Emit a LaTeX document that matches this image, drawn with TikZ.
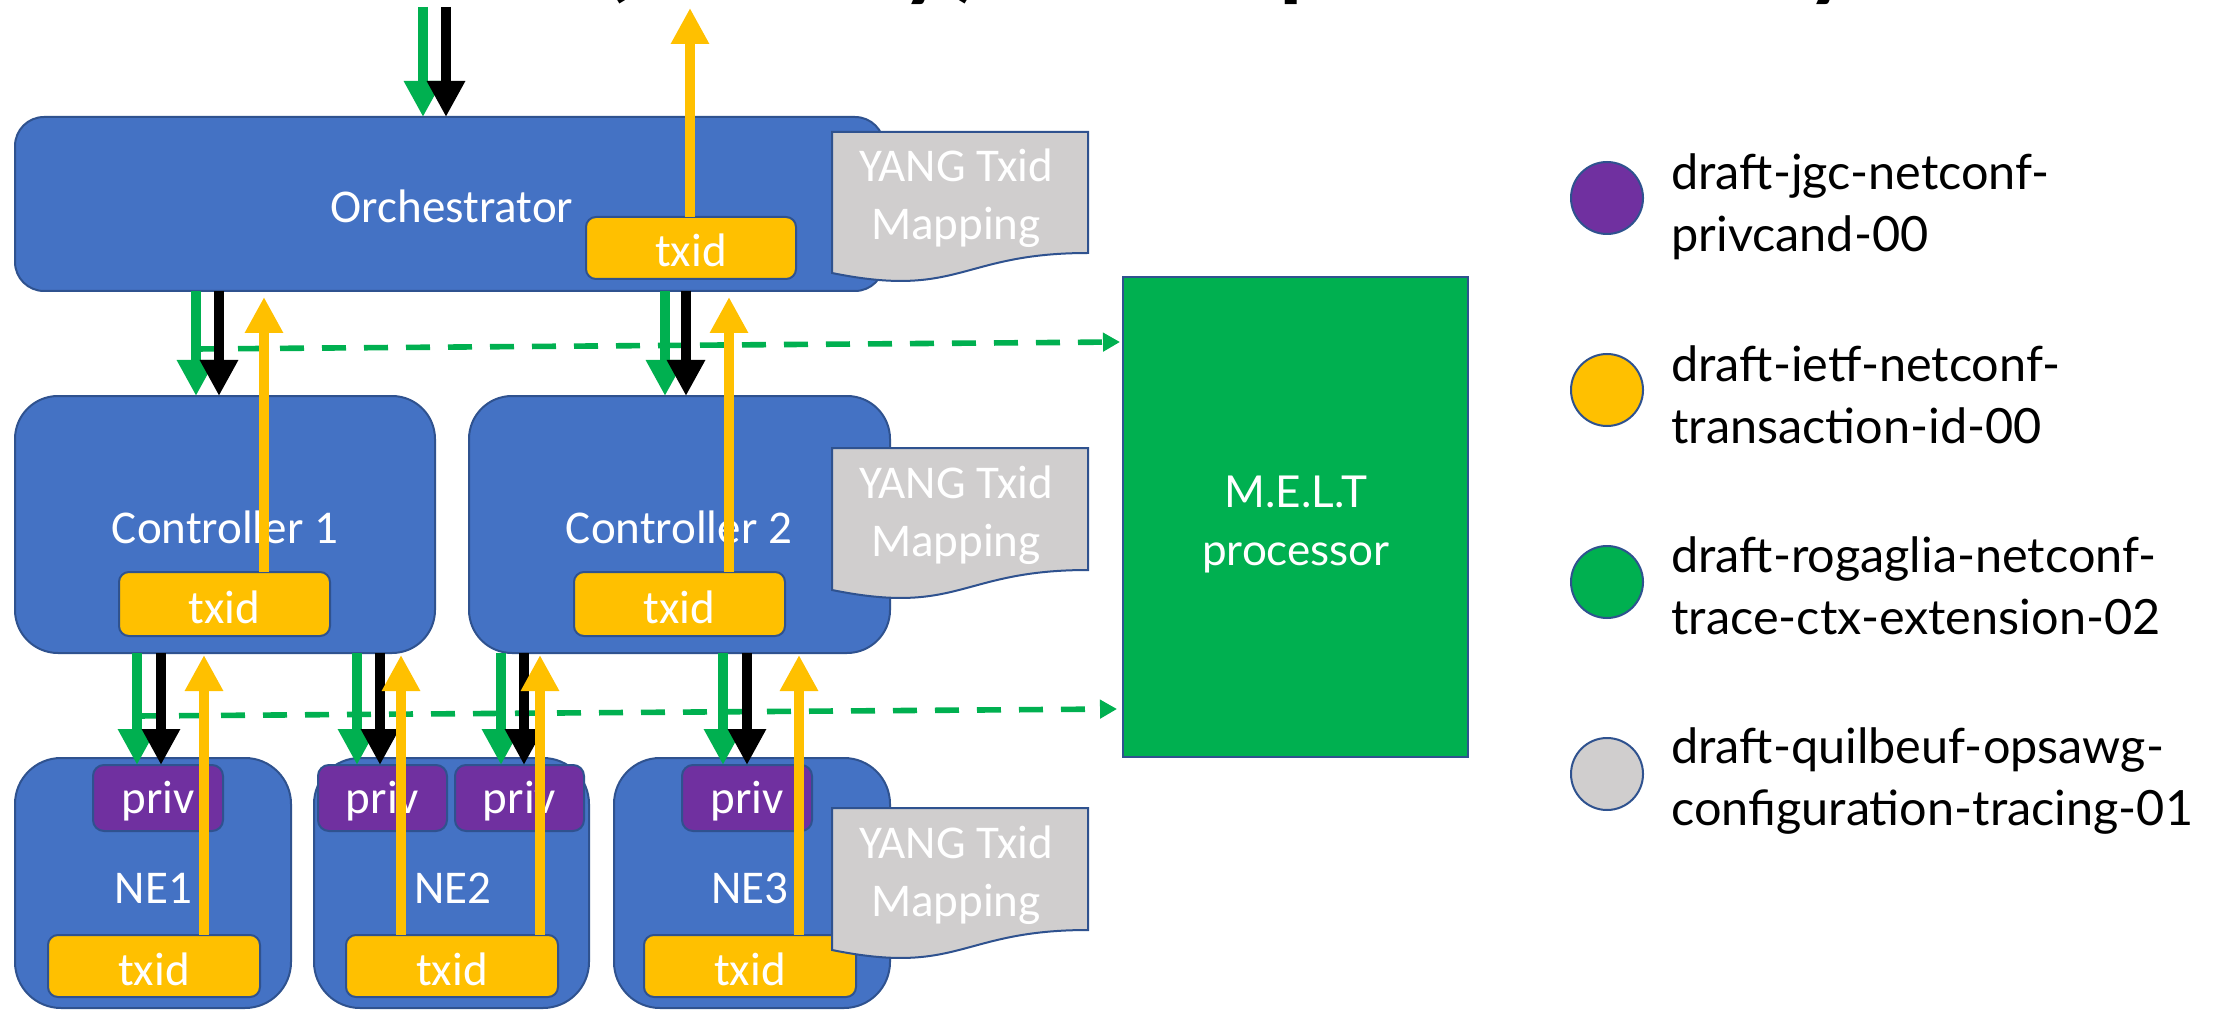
\documentclass[tikz,border=0pt]{standalone}
\usepackage{fontspec}
\setmainfont{Carlito}
\newfontfamily\latofont{Lato}
\usetikzlibrary{arrows.meta,calc}

\definecolor{boxblue}{HTML}{4472C4}
\definecolor{edgeblue}{HTML}{2F528F}
\definecolor{txyellow}{HTML}{FFC000}
\definecolor{privpurple}{HTML}{7030A0}
\definecolor{docgrey}{HTML}{D0CECE}
\definecolor{meltgreen}{HTML}{00B050}

\tikzset{
  panel/.style={draw=edgeblue, line width=1pt, fill=boxblue, inner sep=0pt, outer sep=0pt},
  txidbox/.style={draw=edgeblue, line width=1pt, fill=txyellow, rounded corners=5pt,
    inner sep=0pt, outer sep=0pt, minimum height=31pt},
  privbox/.style={draw=edgeblue, line width=1pt, fill=privpurple, rounded corners=5.5pt,
    inner sep=0pt, outer sep=0pt, minimum height=33pt},
  docshape/.style={draw=edgeblue, line width=1pt, fill=docgrey},
  boxtext/.style={text=white, font=\fontsize{23.5}{28}\selectfont, inner sep=0pt, anchor=base},
  melttext/.style={text=white, font=\latofont\fontsize{22}{26}\selectfont, inner sep=0pt, anchor=base},
  legtext/.style={text=black, font=\latofont\fontsize{24.3}{29}\selectfont, inner sep=0pt, anchor=base west},
  legdot/.style={circle, draw=edgeblue, line width=1pt, minimum size=36pt, inner sep=0pt},
  titlefrag/.style={text=black, font=\bfseries\fontsize{48}{56}\selectfont, inner sep=0pt, anchor=base},
  flow/.style={line width=5pt, -{Triangle[length=18pt,width=18pt]}},
  reqg/.style={flow, draw=meltgreen},
  reqk/.style={flow, draw=black},
  ack/.style={flow, draw=txyellow},
  trace/.style={draw=meltgreen, line width=2.8pt, dash pattern=on 12pt off 9pt,
    -{Triangle[length=8.5pt,width=9pt]}},
}

\begin{document}
\begin{tikzpicture}[x=0.5pt, y=-0.5pt]
\useasboundingbox (0,0) rectangle (2214,1010);
\fill[white] (0,0) rectangle (2214,1010);

% lower edge of the heading, cut by the top border
\begin{scope}
  \clip (0,0) rectangle (2214,1010);
  \node[titlefrag] (hA) at (616,-10) {(};
  \node[titlefrag] (hB) at (925,-10) {y};
  \node[titlefrag] (hC) at (968,-10) {)};
  \node[titlefrag] (hD) at (1305,-10) {p};
  \node[titlefrag] (hE) at (1830,-10) {y};
\end{scope}

% orchestrator
\node[panel, rounded corners=14.5pt, minimum width=434.5pt, minimum height=87pt] (orch) at (449.5,204) {};
\node[txidbox, minimum width=105pt] (orchtx) at (691,248) {};

% controllers
\node[panel, rounded corners=21.5pt, minimum width=210pt, minimum height=128.5pt] (ctrl1) at (225,524.5) {};
\node[panel, rounded corners=21.5pt, minimum width=210.5pt, minimum height=128.5pt] (ctrl2) at (679.5,524.5) {};
\node[txidbox, minimum width=105.5pt, minimum height=32pt] (c1tx) at (224.5,604) {};
\node[txidbox, minimum width=105.5pt, minimum height=32pt] (c2tx) at (679.5,604) {};

% network elements
\node[panel, rounded corners=23pt, minimum width=138pt, minimum height=125pt] (ne1) at (153,883) {};
\node[panel, rounded corners=23pt, minimum width=137.5pt, minimum height=125pt] (ne2) at (451.5,883) {};
\node[panel, rounded corners=23pt, minimum width=138pt, minimum height=125pt] (ne3) at (752,883) {};
\node[privbox, minimum width=65pt] (p1) at (158,798) {};
\node[privbox, minimum width=64.5pt] (p2a) at (382.5,798) {};
\node[privbox, minimum width=64.5pt] (p2b) at (519.5,798) {};
\node[privbox, minimum width=65pt] (p3) at (747,798) {};
\node[txidbox, minimum width=106pt] (n1tx) at (154,966) {};
\node[txidbox, minimum width=106pt] (n2tx) at (452,966) {};
\node[txidbox, minimum width=106pt] (n3tx) at (750,966) {};

% YANG mapping documents
\draw[docshape] (832,132) -- (1088,132) -- (1088,253) .. controls (960,253) and (960,299) .. (832,273) -- cycle;
\draw[docshape] (832,448) -- (1088,448) -- (1088,570) .. controls (960,570) and (960,616) .. (832,590) -- cycle;
\draw[docshape] (832,808) -- (1088,808) -- (1088,930) .. controls (960,930) and (960,976) .. (832,950) -- cycle;

% M.E.L.T processor
\node[draw=edgeblue, line width=1pt, fill=meltgreen, minimum width=172.5pt, minimum height=240pt,
      inner sep=0pt, outer sep=0pt] (melt) at (1295.5,517) {};

% box labels
\node[boxtext] (orchL) at (452,223) {Orchestrator};
\node[boxtext] (orchT) at (691,267) {txid};
\node[boxtext] (c1L) at (225,543) {Controller 1};
\node[boxtext] (c2L) at (679,543) {Controller 2};
\node[boxtext] (c1T) at (224.5,623) {txid};
\node[boxtext] (c2T) at (679.5,623) {txid};
\node[boxtext] (p1L) at (158,813) {priv};
\node[boxtext] (p2aL) at (382.5,813) {priv};
\node[boxtext] (p2bL) at (519.5,813) {priv};
\node[boxtext] (p3L) at (747,813) {priv};
\node[boxtext] (ne1L) at (153.5,903) {NE1};
\node[boxtext] (ne2L) at (453,903) {NE2};
\node[boxtext] (ne3L) at (750,903) {NE3};
\node[boxtext] (n1T) at (154,985) {txid};
\node[boxtext] (n2T) at (452,985) {txid};
\node[boxtext] (n3T) at (750,985) {txid};
\node[boxtext] (y1a) at (956,182) {YANG Txid};
\node[boxtext] (y1b) at (956,240) {Mapping};
\node[boxtext] (y2a) at (956,498) {YANG Txid};
\node[boxtext] (y2b) at (956,556) {Mapping};
\node[boxtext] (y3a) at (956,858) {YANG Txid};
\node[boxtext] (y3b) at (956,916) {Mapping};
\node[melttext] (m1) at (1296,507) {M.E.L.T};
\node[melttext] (m2) at (1296,565) {processor};

% lanes of the arrows
\coordinate (inG) at (423,7);
\coordinate (inB) at (446,7);
\coordinate (outY) at (690,8);
\coordinate (c1G) at (196,0);  \coordinate (c1B) at (219,0);  \coordinate (c1Y) at (264,0);
\coordinate (c2G) at (665,0);  \coordinate (c2B) at (686,0);  \coordinate (c2Y) at (729,0);
\coordinate (n1G) at (137,0);  \coordinate (n1B) at (161,0);  \coordinate (n1Y) at (204,0);
\coordinate (n2G) at (357,0);  \coordinate (n2B) at (380,0);  \coordinate (n2Y) at (401,0);
\coordinate (n3G) at (501,0);  \coordinate (n3B) at (524,0);  \coordinate (n3Y) at (540,0);
\coordinate (n4G) at (723,0);  \coordinate (n4B) at (747,0);  \coordinate (n4Y) at (799,0);

% trace context to the M.E.L.T processor
\coordinate (tr1) at (196,349);
\coordinate (tr2) at (137,716);
\draw[trace] (tr1) -- ($(melt.north west)+(-3,65)$);
\draw[trace] (tr2) -- ($(melt.north west)+(-6,432)$);

% requests going down
\draw[reqg] (inG) -- (orch.north -| inG);
\draw[reqk] (inB) -- (orch.north -| inB);
\draw[reqg] (orch.south -| c1G) -- (ctrl1.north -| c1G);
\draw[reqk] (orch.south -| c1B) -- (ctrl1.north -| c1B);
\draw[reqg] (orch.south -| c2G) -- (ctrl2.north -| c2G);
\draw[reqk] (orch.south -| c2B) -- (ctrl2.north -| c2B);
\draw[reqg] (ctrl1.south -| n1G) -- (p1.north -| n1G);
\draw[reqk] (ctrl1.south -| n1B) -- (p1.north -| n1B);
\draw[reqg] (ctrl1.south -| n2G) -- (p2a.north -| n2G);
\draw[reqk] (ctrl1.south -| n2B) -- (p2a.north -| n2B);
\draw[reqg] (ctrl2.south -| n3G) -- (p2b.north -| n3G);
\draw[reqk] (ctrl2.south -| n3B) -- (p2b.north -| n3B);
\draw[reqg] (ctrl2.south -| n4G) -- (p3.north -| n4G);
\draw[reqk] (ctrl2.south -| n4B) -- (p3.north -| n4B);

% txid going up
\draw[ack] (orchtx.north -| outY) -- (outY);
\draw[ack] (c1tx.north -| c1Y) -- ($(orch.south -| c1Y)+(0,6)$);
\draw[ack] (c2tx.north -| c2Y) -- ($(orch.south -| c2Y)+(0,6)$);
\draw[ack] (n1tx.north -| n1Y) -- ($(ctrl1.south -| n1Y)+(0,2)$);
\draw[ack] (n2tx.north -| n2Y) -- ($(ctrl1.south -| n2Y)+(0,2)$);
\draw[ack] (n2tx.north -| n3Y) -- ($(ctrl2.south -| n3Y)+(0,2)$);
\draw[ack] (n3tx.north -| n4Y) -- ($(ctrl2.south -| n4Y)+(0,2)$);

% legend
\node[legdot, fill=privpurple] (lg1) at (1607,198) {};
\node[legdot, fill=txyellow] (lg2) at (1607,390) {};
\node[legdot, fill=meltgreen] (lg3) at (1607,582) {};
\node[legdot, fill=docgrey] (lg4) at (1607,774) {};
\node[legtext] (lt1a) at (1671,190) {draft-jgc-netconf-};
\node[legtext] (lt1b) at (1671,252) {privcand-00};
\node[legtext] (lt2a) at (1671,381) {draft-ietf-netconf-};
\node[legtext] (lt2b) at (1671,443) {transaction-id-00};
\node[legtext] (lt3a) at (1671,572) {draft-rogaglia-netconf-};
\node[legtext] (lt3b) at (1671,634) {trace-ctx-extension-02};
\node[legtext] (lt4a) at (1671,763) {draft-quilbeuf-opsawg-};
\node[legtext] (lt4b) at (1671,825) {configuration-tracing-01};
\end{tikzpicture}
\end{document}
